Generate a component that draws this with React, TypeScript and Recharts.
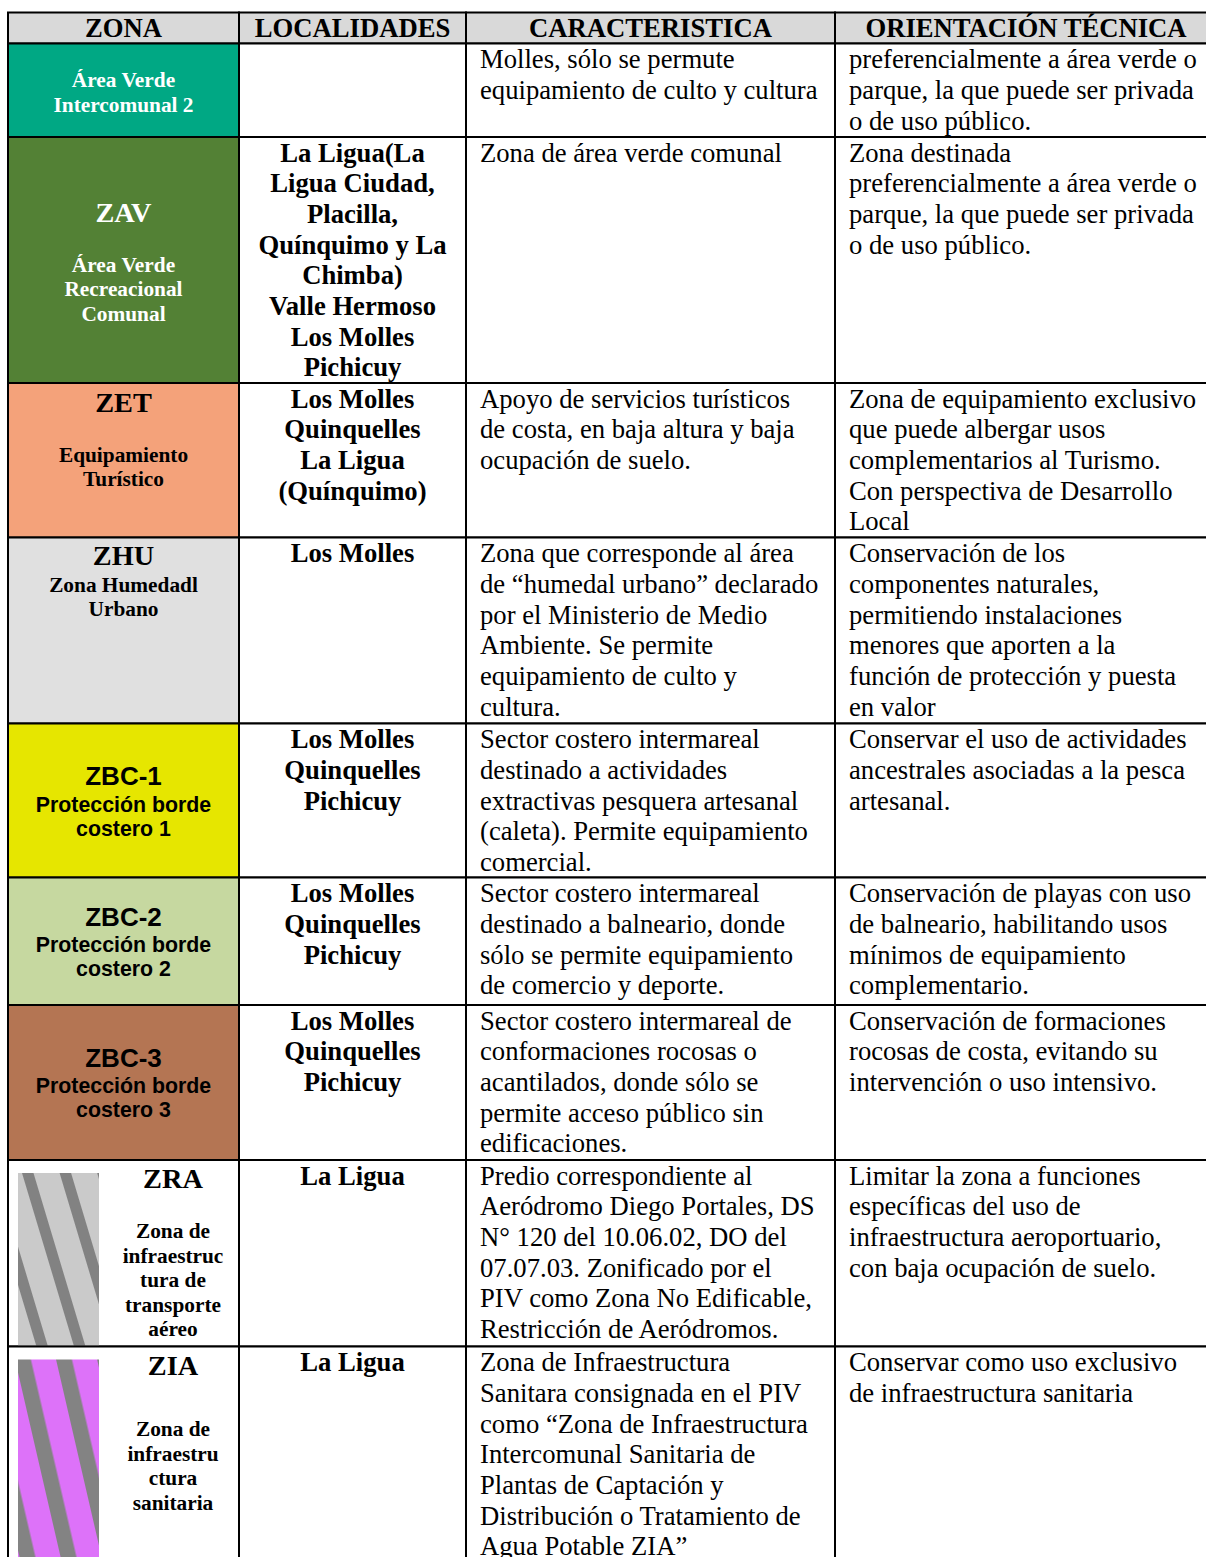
import React from 'react';
import { ComposedChart, XAxis, YAxis, ReferenceArea } from 'recharts';

// ---------- data ----------
const HEADERS = ['ZONA', 'LOCALIDADES', 'CARACTERISTICA', 'ORIENTACIÓN TÉCNICA'];

const ZONE_CODES = ['', 'ZAV', 'ZET', 'ZHU', 'ZBC-1', 'ZBC-2', 'ZBC-3', 'ZRA', 'ZIA'];

const ZONE_NAMES = [
  ['Área Verde', 'Intercomunal 2'],
  ['Área Verde', 'Recreacional', 'Comunal'],
  ['Equipamiento', 'Turístico'],
  ['Zona Humedadl', 'Urbano'],
  ['Protección borde', 'costero 1'],
  ['Protección borde', 'costero 2'],
  ['Protección borde', 'costero 3'],
  ['Zona de', 'infraestruc', 'tura de', 'transporte', 'aéreo'],
  ['Zona de', 'infraestru', 'ctura', 'sanitaria'],
];

const LOCALIDADES = [
  [],
  ['La Ligua(La', 'Ligua Ciudad,', 'Placilla,', 'Quínquimo y La', 'Chimba)', 'Valle Hermoso', 'Los Molles', 'Pichicuy'],
  ['Los Molles', 'Quinquelles', 'La Ligua', '(Quínquimo)'],
  ['Los Molles'],
  ['Los Molles', 'Quinquelles', 'Pichicuy'],
  ['Los Molles', 'Quinquelles', 'Pichicuy'],
  ['Los Molles', 'Quinquelles', 'Pichicuy'],
  ['La Ligua'],
  ['La Ligua'],
];

const CARACTERISTICA = [
  ['Molles, sólo se permute', 'equipamiento de culto y cultura'],
  ['Zona de área verde comunal'],
  ['Apoyo de servicios turísticos', 'de costa, en baja altura y baja', 'ocupación de suelo.'],
  ['Zona que corresponde al área', 'de “humedal urbano” declarado', 'por el Ministerio de Medio', 'Ambiente. Se permite', 'equipamiento de culto y', 'cultura.'],
  ['Sector costero intermareal', 'destinado a actividades', 'extractivas pesquera artesanal', '(caleta). Permite equipamiento', 'comercial.'],
  ['Sector costero intermareal', 'destinado a balneario, donde', 'sólo se permite equipamiento', 'de comercio y deporte.'],
  ['Sector costero intermareal de', 'conformaciones rocosas o', 'acantilados, donde sólo se', 'permite acceso público sin', 'edificaciones.'],
  ['Predio correspondiente al', 'Aeródromo Diego Portales, DS', 'N° 120 del 10.06.02, DO del', '07.07.03. Zonificado por el', 'PIV como Zona No Edificable,', 'Restricción de Aeródromos.'],
  ['Zona de Infraestructura', 'Sanitara consignada en el PIV', 'como “Zona de Infraestructura', 'Intercomunal Sanitaria de', 'Plantas de Captación y', 'Distribución o Tratamiento de', 'Agua Potable ZIA”'],
];

const ORIENTACION = [
  ['preferencialmente a área verde o', 'parque, la que puede ser privada', 'o de uso público.'],
  ['Zona destinada', 'preferencialmente a área verde o', 'parque, la que puede ser privada', 'o de uso público.'],
  ['Zona de equipamiento exclusivo', 'que puede albergar usos', 'complementarios al Turismo.', 'Con perspectiva de Desarrollo', 'Local'],
  ['Conservación de los', 'componentes naturales,', 'permitiendo instalaciones', 'menores que aporten a la', 'función de protección y puesta', 'en valor'],
  ['Conservar el uso de actividades', 'ancestrales asociadas a la pesca', 'artesanal.'],
  ['Conservación de playas con uso', 'de balneario, habilitando usos', 'mínimos de equipamiento', 'complementario.'],
  ['Conservación de formaciones', 'rocosas de costa, evitando su', 'intervención o uso intensivo.'],
  ['Limitar la zona a funciones', 'específicas del uso de', 'infraestructura aeroportuario,', 'con baja ocupación de suelo.'],
  ['Conservar como uso exclusivo', 'de infraestructura sanitaria'],
];

// ---------- layout / style ----------
const W = 1206;
const H = 1557;
const SERIF = '"Liberation Serif", "Times New Roman", serif';
const SANS = '"Liberation Sans", Arial, sans-serif';

const COL_EDGES = [8, 239, 466, 835, 1217];
const ROW_EDGES = [12.5, 43.5, 137, 383, 537.5, 723.5, 877.5, 1005, 1160, 1346.5, 1600];

const BODY_FS = 26.67;
const BODY_LH = 30.67;
const BODY_BASE = 24.8;
const PAD = 14;

const ZONE_FILL = ['#00a884', '#538135', '#f4a27a', '#e0e0e0', '#e6e600', '#c6d8a0', '#b47553', '#ffffff', '#ffffff'];
const ZONE_INK = ['#ffffff', '#ffffff', '#000000', '#000000', '#000000', '#000000', '#000000', '#000000', '#000000'];
const ZONE_FIRST = [43.8, 84.7, 28.7, 27.5, 61.5, 48.5, 61.7, 28.3, 28.5];
const ZONE_GAP = [0, 50, 50, 26.7, 26.5, 25.7, 26, 50, 61];
const ZONE_SANS = [false, false, false, false, true, true, true, false, false];
const ZONE_CX = [null, null, null, null, null, null, null, 165, 165];

const PATTERNS = [
  null, null, null, null, null, null, null,
  { id: 'zraPat', bg: '#cacaca', stripe: '#828282', tx: 22, ty: 1173, rot: -16.7, tile: 36, sw: 11 },
  { id: 'ziaPat', bg: '#dd72f9', stripe: '#838383', tx: 55, ty: 1355, rot: -13, tile: 40, sw: 15.5 },
];
const PATTERN_BOX = { x0: 18, x1: 99, top: 13 };

const STROKE = '#000000';
const SW = 2;

function Lines({ lines, x, y, lh, anchor, fs, family, weight, fill }: any) {
  return (
    <text
      textAnchor={anchor}
      fontSize={fs}
      fontFamily={family}
      fontWeight={weight}
      fill={fill}
    >
      {lines.map((t: string, i: number) => (
        <tspan key={i} x={x} y={y + i * lh}>
          {t}
        </tspan>
      ))}
    </text>
  );
}

const headerShape = (c: number) => (p: any) => {
  const { x, y, width, height } = p;
  return (
    <g>
      <rect x={x} y={y} width={width} height={height} fill="#d9d9d9" stroke={STROKE} strokeWidth={SW} />
      <Lines
        lines={[HEADERS[c]]}
        x={x + width / 2}
        y={y + 24.2}
        lh={BODY_LH}
        anchor="middle"
        fs={BODY_FS}
        family={SERIF}
        weight="bold"
        fill="#000"
      />
    </g>
  );
};

const zoneShape = (r: number) => (p: any) => {
  const { x, y, width, height } = p;
  const sans = ZONE_SANS[r];
  const cx = ZONE_CX[r] != null ? x + (ZONE_CX[r] as number) : x + width / 2;
  const codeFs = sans ? 26 : 28.33;
  const nameFs = 21.33;
  const nameLh = sans ? 24.2 : 24.5;
  const base = y + ZONE_FIRST[r];
  const code = ZONE_CODES[r];
  const nameStart = code ? base + ZONE_GAP[r] : base;
  const pat = PATTERNS[r];
  return (
    <g>
      {pat && (
        <defs>
          <pattern
            id={pat.id}
            patternUnits="userSpaceOnUse"
            width={pat.tile}
            height={20}
            patternTransform={`translate(${pat.tx},${pat.ty}) rotate(${pat.rot})`}
          >
            <rect x={0} y={0} width={pat.tile} height={20} fill={pat.bg} />
            <rect x={0} y={0} width={pat.sw} height={20} fill={pat.stripe} />
          </pattern>
        </defs>
      )}
      <rect x={x} y={y} width={width} height={height} fill={ZONE_FILL[r]} stroke={STROKE} strokeWidth={SW} />
      {pat && (
        <rect
          x={PATTERN_BOX.x0}
          y={y + PATTERN_BOX.top}
          width={PATTERN_BOX.x1 - PATTERN_BOX.x0}
          height={height - PATTERN_BOX.top - 1}
          fill={`url(#${pat.id})`}
        />
      )}
      {code && (
        <Lines
          lines={[code]}
          x={cx}
          y={base}
          lh={0}
          anchor="middle"
          fs={codeFs}
          family={sans ? SANS : SERIF}
          weight="bold"
          fill={ZONE_INK[r]}
        />
      )}
      <Lines
        lines={ZONE_NAMES[r]}
        x={cx}
        y={nameStart}
        lh={nameLh}
        anchor="middle"
        fs={nameFs}
        family={sans ? SANS : SERIF}
        weight="bold"
        fill={ZONE_INK[r]}
      />
    </g>
  );
};

const textShape = (lines: string[], bold: boolean, center: boolean) => (p: any) => {
  const { x, y, width, height } = p;
  return (
    <g>
      <rect x={x} y={y} width={width} height={height} fill="#ffffff" stroke={STROKE} strokeWidth={SW} />
      <Lines
        lines={lines}
        x={center ? x + width / 2 : x + PAD}
        y={y + BODY_BASE}
        lh={BODY_LH}
        anchor={center ? 'middle' : 'start'}
        fs={BODY_FS}
        family={SERIF}
        weight={bold ? 'bold' : 'normal'}
        fill="#000"
      />
    </g>
  );
};

export default function App() {
  const areas: React.ReactNode[] = [];
  HEADERS.forEach((_, c) => {
    areas.push(
      <ReferenceArea
        key={`h${c}`}
        x1={COL_EDGES[c]}
        x2={COL_EDGES[c + 1]}
        y1={ROW_EDGES[0]}
        y2={ROW_EDGES[1]}
        ifOverflow="visible"
        shape={headerShape(c)}
      />
    );
  });
  ZONE_CODES.forEach((_, r) => {
    const y1 = ROW_EDGES[r + 1];
    const y2 = ROW_EDGES[r + 2];
    areas.push(
      <ReferenceArea key={`z${r}`} x1={COL_EDGES[0]} x2={COL_EDGES[1]} y1={y1} y2={y2} ifOverflow="visible" shape={zoneShape(r)} />
    );
    areas.push(
      <ReferenceArea key={`l${r}`} x1={COL_EDGES[1]} x2={COL_EDGES[2]} y1={y1} y2={y2} ifOverflow="visible" shape={textShape(LOCALIDADES[r], true, true)} />
    );
    areas.push(
      <ReferenceArea key={`c${r}`} x1={COL_EDGES[2]} x2={COL_EDGES[3]} y1={y1} y2={y2} ifOverflow="visible" shape={textShape(CARACTERISTICA[r], false, false)} />
    );
    areas.push(
      <ReferenceArea key={`o${r}`} x1={COL_EDGES[3]} x2={COL_EDGES[4]} y1={y1} y2={y2} ifOverflow="visible" shape={textShape(ORIENTACION[r], false, false)} />
    );
  });

  return (
    <div style={{ position: 'absolute', left: 0, top: 0, width: W, height: H, overflow: 'hidden', background: '#fff' }}>
      <ComposedChart width={W} height={H} margin={{ top: 0, right: 0, bottom: 0, left: 0 }} data={[{ x: 0, y: 0 }]}>
        <XAxis type="number" dataKey="x" domain={[0, W]} allowDataOverflow hide />
        <YAxis type="number" dataKey="y" domain={[0, H]} allowDataOverflow reversed hide />
        {areas}
      </ComposedChart>
    </div>
  );
}
